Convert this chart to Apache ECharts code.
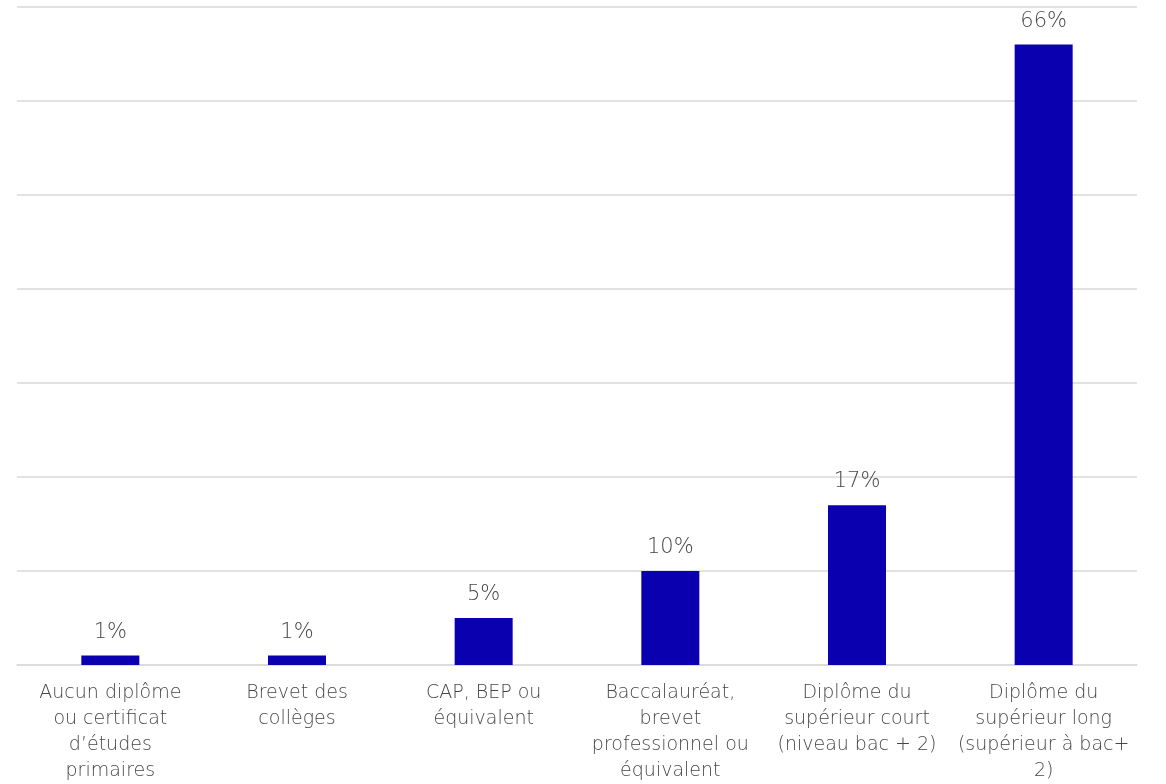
<!DOCTYPE html>
<html>
<head>
<meta charset="utf-8">
<script src="https://cdn.jsdelivr.net/npm/echarts@6/dist/echarts.min.js"></script>
<style>
  html, body { margin: 0; padding: 0; background: #ffffff; }
  #chart { width: 1166px; height: 784px; }
</style>
</head>
<body>
<div id="chart"></div>
<script>
// Diplôme le plus élevé obtenu (part en %)
const categories = [
  "Aucun diplôme\nou certificat\nd\u2019études\nprimaires",
  "Brevet des\ncollèges",
  "CAP, BEP ou\néquivalent",
  "Baccalauréat,\nbrevet\nprofessionnel ou\néquivalent",
  "Diplôme du\nsupérieur court\n(niveau bac + 2)",
  "Diplôme du\nsupérieur long\n(supérieur à bac+\n2)"
];
const shares = [1, 1, 5, 10, 17, 66];
const axisMax = 70;
const axisStep = 10;

const textColor = "#464646";
const fontFamily = "'DejaVu Sans', 'Noto Sans', sans-serif";

const chart = echarts.init(document.getElementById("chart"), null, { renderer: "canvas" });
chart.setOption({
  animation: false,
  backgroundColor: "#ffffff",
  grid: { left: 17, right: 29, top: 7, bottom: 119, containLabel: false },
  xAxis: {
    type: "category",
    data: categories,
    axisLine: { show: true, lineStyle: { color: "#d9d9d9", width: 1.5 } },
    axisTick: { show: false },
    axisLabel: {
      interval: 0,
      color: textColor,
      fontFamily: fontFamily,
      fontWeight: 300,
      fontSize: 19,
      lineHeight: 26,
      margin: 15
    }
  },
  yAxis: {
    type: "value",
    min: 0,
    max: axisMax,
    interval: axisStep,
    axisLabel: { show: false },
    axisLine: { show: false },
    axisTick: { show: false },
    splitLine: { lineStyle: { color: "#d9d9d9", width: 1.5 } }
  },
  series: [{
    type: "bar",
    data: shares,
    barWidth: 58,
    itemStyle: { color: "#0a00b0" },
    label: {
      show: true,
      position: "top",
      distance: 13,
      formatter: "{c}%",
      color: textColor,
      fontFamily: fontFamily,
      fontWeight: 300,
      fontSize: 21
    }
  }]
});
</script>
</body>
</html>
